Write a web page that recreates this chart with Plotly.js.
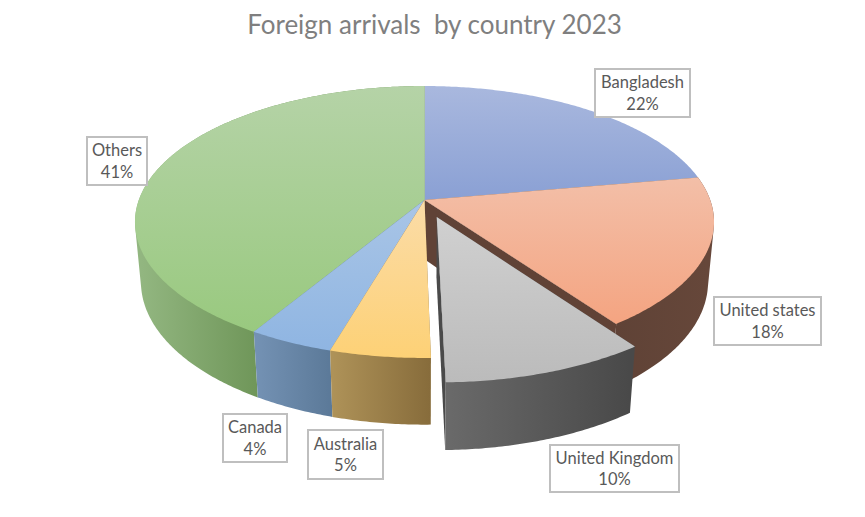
<!DOCTYPE html>
<html>
<head>
<meta charset="utf-8">
<script src="https://cdn.plot.ly/plotly-3.0.1.min.js"></script>
<style>html,body{margin:0;padding:0;background:#fff}#chart{width:865px;height:517px}</style>
</head>
<body>
<div id="chart"></div>
<script>
// ---- data ----
const categories = ['Bangladesh', 'United states', 'United Kingdom', 'Australia', 'Canada', 'Others'];
const shares = [22.2, 17.9, 9.6, 4.8, 4.1, 41.4];
const exploded = [0, 0, 0.133, 0, 0, 0];

// ---- styles ----
const topColors = [['#a9b8de', '#8aa0d4'], ['#f3bfa8', '#f4a481'], ['#d0d0d0', '#bbbbbb'],
                   ['#fbdca8', '#fdd176'], ['#a9c5e6', '#8fb5e2'], ['#b5d3a7', '#99c97f']];
const wallColors = [['#6b7ba3', '#6b7ba3'], ['#5f4236', '#66473a'], ['#6a6a6a', '#494949'],
                    ['#ae9258', '#876c3b'], ['#7391b3', '#5b7998'], ['#92b680', '#6f9659']];
const radialWallColor = ['#000', '#604236', '#4a4a4a', '#000', '#000', '#000'];
const labelBoxes = [[642.5, 93, 97, 50], [767.5, 321, 109, 50], [614.5, 468.5, 131, 49],
                    [345.5, 454.5, 77, 51], [255, 438, 66, 50], [117, 161, 62, 50]];

// ---- perspective projection of the unit disc onto the page ----
const cx = 424.5, cy = 200, B = 285.7, A = 132.4, k = 0.1618, m = 0.0205, D = 60.5;
function project(X, Y, Z) {
  const w = 1 + k * Y + m * Z;
  return [cx + B * X / w, cy - (A * Y - D * Z) / w];
}
// the generator of the cylinder that forms the silhouette seen from the camera
const vanishY = cy + D / m;
let tangentY = 0, bestSlope = -1;
for (let a = 0; a < Math.PI; a += 0.002) {
  const p = project(Math.sin(a), Math.cos(a), 0);
  const slope = (p[0] - cx) / (vanishY - p[1]);
  if (slope > bestSlope) { bestSlope = slope; tangentY = Math.cos(a); }
}

const total = shares.reduce((a, b) => a + b, 0);
const traces = [];
let c = 0;
const slices = shares.map((v, i) => {
  const s = { i, a0: c / total * 2 * Math.PI, a1: (c + v) / total * 2 * Math.PI };
  c += v;
  const mid = (s.a0 + s.a1) / 2;
  s.dx = exploded[i] * Math.sin(mid);
  s.dy = exploded[i] * Math.cos(mid);
  return s;
});

function angles(s) {
  const out = [];
  const n = Math.max(2, Math.ceil((s.a1 - s.a0) / 0.01));
  for (let j = 0; j <= n; j++) out.push(s.a0 + (s.a1 - s.a0) * j / n);
  return out;
}
function rim(s, a, Z) { return project(Math.sin(a) + s.dx, Math.cos(a) + s.dy, Z); }

function poly(name, pts, colors, type, span) {
  const x = pts.map(p => p[0]), y = pts.map(p => p[1]);
  x.push(x[0]); y.push(y[0]);
  const v = span || (type === 'vertical' ? y : x);
  traces.push({
    type: 'scatter', mode: 'none', name, x, y, fill: 'toself', showlegend: false, hoverinfo: 'name',
    fillgradient: { type, start: Math.min(...v), stop: Math.max(...v),
      colorscale: [[0, colors[0]], [1, colors[1]]] }
  });
}

function wall(s) {
  const as = angles(s);
  const outer = as.map(a => rim(s, a, Math.cos(a) < tangentY ? 1 : 0));
  const visible = as.filter(a => Math.cos(a) < tangentY).map(a => rim(s, a, 1)[0]);
  const pts = [project(s.dx, s.dy, 0), rim(s, s.a0, 0)].concat(outer, [rim(s, s.a1, 0)]);
  poly(categories[s.i] + ' side', pts, wallColors[s.i], 'horizontal', visible);
}
function face(s) {
  const pts = [project(s.dx, s.dy, 0)].concat(angles(s).map(a => rim(s, a, 0)));
  poly(categories[s.i], pts, topColors[s.i], 'vertical');
}
function cutFace(s, a) {
  const pts = [project(s.dx, s.dy, 0), rim(s, a, 0), rim(s, a, 1), project(s.dx, s.dy, 1)];
  poly(categories[s.i] + ' cut', pts, [radialWallColor[s.i], radialWallColor[s.i]], 'horizontal');
}

// painter's order, back to front
face(slices[0]);
cutFace(slices[1], slices[1].a1);
wall(slices[1]); face(slices[1]);
wall(slices[5]); face(slices[5]);
wall(slices[4]); face(slices[4]);
wall(slices[3]); face(slices[3]);
cutFace(slices[2], slices[2].a1);
wall(slices[2]); face(slices[2]);

const annotations = slices.map(s => ({
  xref: 'x', yref: 'y', x: labelBoxes[s.i][0], y: labelBoxes[s.i][1],
  xanchor: 'center', yanchor: 'middle',
  text: categories[s.i] + '<br>' + Math.round(shares[s.i] / total * 100) + '%',
  showarrow: false, align: 'center', valign: 'middle',
  width: labelBoxes[s.i][2] - 4, height: labelBoxes[s.i][3] - 4, borderpad: 0,
  bordercolor: '#bfbfbf', borderwidth: 2, bgcolor: '#ffffff',
  font: { family: 'Lato, sans-serif', size: 16.5, color: '#595959' }
}));

const layout = {
  width: 865, height: 517, margin: { l: 0, r: 0, t: 0, b: 0 },
  paper_bgcolor: '#ffffff', plot_bgcolor: '#ffffff',
  title: { text: 'Foreign arrivals  by country 2023', x: 0.5023, xanchor: 'center', y: 0.951, yanchor: 'middle',
    font: { family: 'Lato, sans-serif', size: 26, color: '#7f7f7f' } },
  xaxis: { range: [0, 865], visible: false, fixedrange: true },
  yaxis: { range: [517, 0], visible: false, fixedrange: true },
  annotations, showlegend: false
};
Plotly.newPlot('chart', traces, layout, { displayModeBar: false });
</script>
</body>
</html>
